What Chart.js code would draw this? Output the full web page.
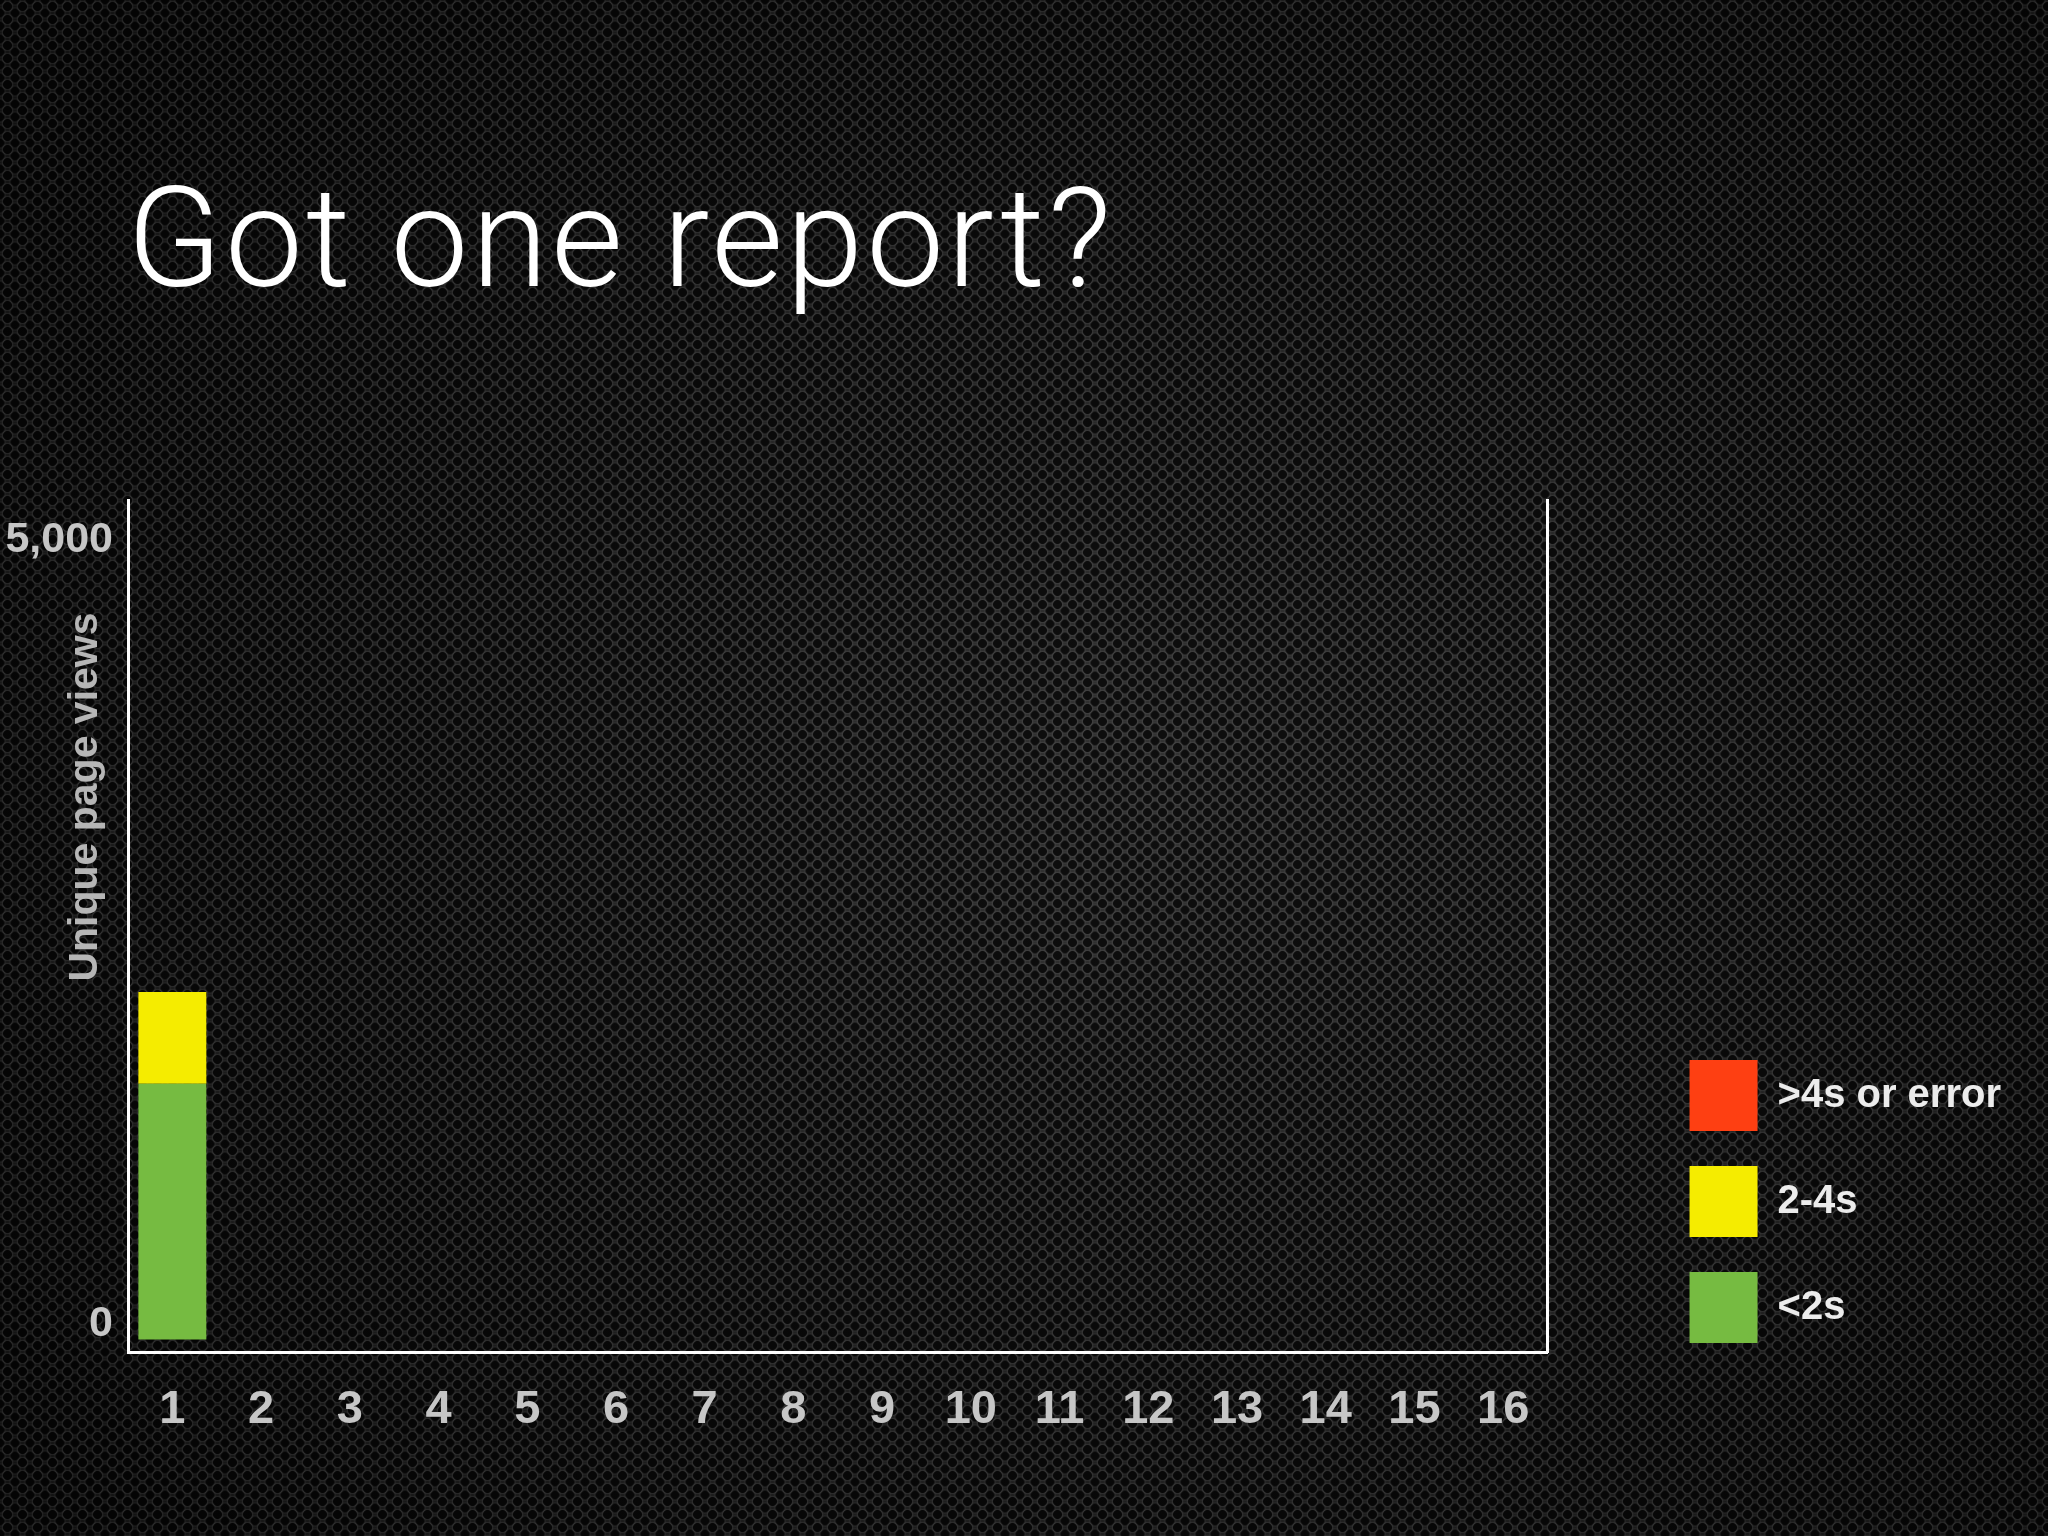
<!DOCTYPE html>
<html>
<head>
<meta charset="utf-8">
<script src="https://cdn.jsdelivr.net/npm/chart.js@4.4.0/dist/chart.umd.min.js"></script>
<style>
  html, body { margin: 0; padding: 0; }
  body {
    width: 2048px; height: 1536px; overflow: hidden; position: relative;
    background: radial-gradient(ellipse 70% 75% at 57% 52%, #2f2f2f 0%, #1f1f1f 45%, #0c0c0c 100%);
  }
  .mesh {
    position: absolute; left: 0; top: 0; width: 2048px; height: 1536px;
    background-image:
      radial-gradient(circle at 50% 50%, rgba(0,0,0,0.7) 0 4px, rgba(255,255,255,0.08) 5px, transparent 6.5px),
      radial-gradient(circle at 50% 50%, rgba(0,0,0,0.7) 0 4px, rgba(255,255,255,0.08) 5px, transparent 6.5px);
    background-size: 15px 13px, 15px 13px;
    background-position: 0 0, 7.5px 6.5px;
  }
  #title {
    position: absolute; left: 127px; top: 169px; margin: 0;
    font-family: Roboto, "Open Sans", Lato, sans-serif; font-weight: 300;
    font-size: 139px; line-height: 139px; letter-spacing: 3px;
    color: #ffffff; white-space: nowrap;
  }
  #chart { position: absolute; left: 0; top: 0; }
</style>
</head>
<body>
<div class="mesh"></div>
<h1 id="title">Got one report?</h1>
<canvas id="chart" width="2048" height="1536"></canvas>
<script>
// data
const categories = ['1', '2', '3', '4', '5', '6', '7', '8', '9', '10', '11', '12', '13', '14', '15', '16'];
const fastViews = [1630, null, null, null, null, null, null, null, null, null, null, null, null, null, null, null];
const mediumViews = [585, null, null, null, null, null, null, null, null, null, null, null, null, null, null, null];
const slowViews = [0, null, null, null, null, null, null, null, null, null, null, null, null, null, null, null];
const yTickValues = [0, 5000];
const yAxisTitle = 'Unique page views';

const labelFont = '"Liberation Sans", Arial, sans-serif';

//rotated y axis title, sits in the upper part of the axis like the slide
const yTitlePlugin = {
    id: 'yTitle',
    afterDraw(chart) {
        const ctx = chart.ctx;
        ctx.save();
        ctx.translate(86, chart.chartArea.top + 297);
        ctx.rotate(-Math.PI / 2);
        ctx.font = 'bold 41px ' + labelFont;
        ctx.fillStyle = '#b6b6b6';
        ctx.textAlign = 'center';
        ctx.textBaseline = 'middle';
        ctx.fillText(yAxisTitle, 0, 0);
        ctx.restore();
    }
};

let data = {
    labels: categories,
    datasets: [{
        label: '<2s',
        backgroundColor: 'rgb(118, 187, 65)',
        data: fastViews,
    },
    {
        label: '2-4s',
        backgroundColor: 'rgb(245, 236, 0)',
        data: mediumViews,
    },
    {
        label: '>4s or error',
        backgroundColor: 'rgb(254, 63, 18)',
        data: slowViews,
    }]
};

let config = {
    type: 'bar',
    data: data,
    plugins: [yTitlePlugin],
    options: {
        responsive: false,
        devicePixelRatio: 1,
        animation: false,
        borderWidth: 0,
        barPercentage: 0.766,
        categoryPercentage: 1,
        layout: {
            padding: { top: 500, bottom: 99, left: 0, right: 37 }
        },
        plugins: {
            title: { display: false },
            tooltip: { enabled: false },
            legend: {
                position: 'right',
                align: 'start',
                reverse: true,
                maxWidth: 600,
                // empty legend title only pushes the swatches down to the bottom of the plot
                title: {
                    display: true,
                    text: '',
                    font: { size: 10 },
                    padding: { top: 513, bottom: 0 }
                },
                labels: {
                    boxWidth: 68,
                    boxHeight: 71,
                    padding: 35,
                    color: '#ececec',
                    font: { family: labelFont, weight: 'bold', size: 40 }
                }
            }
        },
        scales: {
            x: {
                stacked: true,
                afterFit: (s) => { s.height = 85; },
                grid: { display: false, drawTicks: false },
                border: { display: true, color: '#ffffff', width: 3 },
                ticks: {
                    padding: 30,
                    autoSkip: false,
                    maxRotation: 0,
                    color: '#c6c6c6',
                    font: { family: labelFont, weight: 'bold', size: 47 }
                }
            },
            y: {
                stacked: true,
                min: -80,
                max: 5350,
                afterBuildTicks: (s) => { s.ticks = yTickValues.map((v) => ({ value: v })); },
                afterFit: (s) => { s.width = 128; },
                grid: { display: false, drawTicks: false },
                border: { display: true, color: '#ffffff', width: 3 },
                ticks: {
                    padding: 15,
                    labelOffset: -15,
                    color: '#c6c6c6',
                    font: { family: labelFont, weight: 'bold', size: 43 },
                    callback: (v) => v.toLocaleString('en-US')
                }
            },
            y2: {
                position: 'right',
                afterFit: (s) => { s.width = 107; },
                grid: { display: false, drawTicks: false },
                border: { display: true, color: '#ffffff', width: 3 },
                ticks: { display: false }
            }
        }
    }
};

new Chart(document.getElementById('chart'), config);
</script>
</body>
</html>
